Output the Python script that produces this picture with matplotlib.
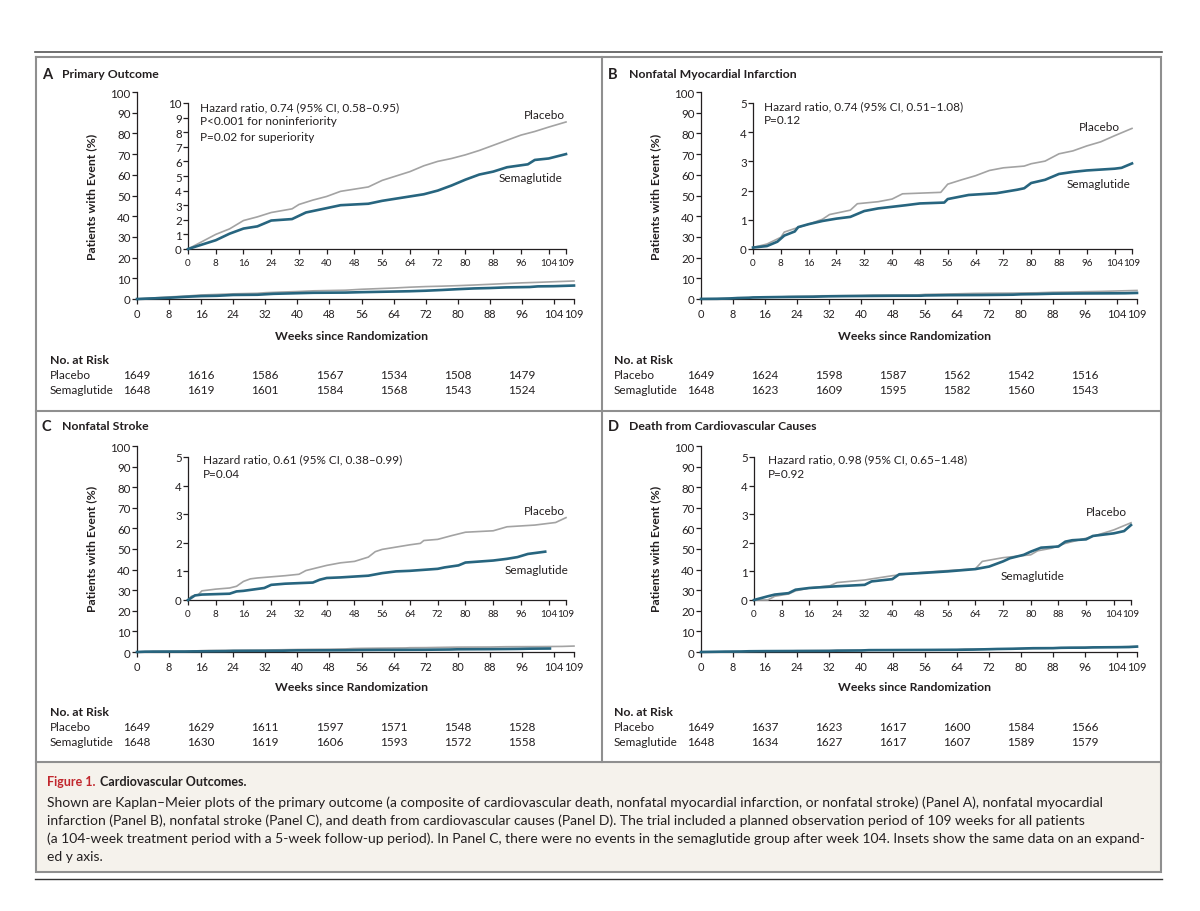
import matplotlib
matplotlib.use('Agg')
import matplotlib.pyplot as plt
from matplotlib.transforms import blended_transform_factory
from matplotlib.patches import Rectangle
from matplotlib import font_manager

# ---------------- data ----------------
week_ticks = [0, 8, 16, 24, 32, 40, 48, 56, 64, 72, 80, 88, 96, 104, 109]
risk_weeks = [0, 16, 32, 48, 64, 80, 96]

# Panel A  Primary outcome (cumulative %)
a_plac_t = [0, 4, 8, 12, 16, 20, 24, 30, 32, 36, 40, 44, 52, 56, 60, 64, 68, 72, 76, 80, 84, 88, 92, 96, 100, 104, 109]
a_plac_y = [0, 0.5, 1.0, 1.38, 1.95, 2.2, 2.5, 2.75, 3.05, 3.35, 3.6, 3.95, 4.25, 4.7, 5.0, 5.3, 5.7, 6.0, 6.2, 6.45, 6.75, 7.1, 7.45, 7.8, 8.05, 8.35, 8.7]
a_sema_t = [0, 4, 8, 12, 16, 20, 24, 30, 34, 40, 44, 52, 56, 64, 68, 72, 76, 80, 84, 88, 92, 98, 100, 104, 109]
a_sema_y = [0, 0.3, 0.6, 1.05, 1.4, 1.55, 1.95, 2.05, 2.5, 2.8, 3.0, 3.1, 3.3, 3.6, 3.75, 4.0, 4.35, 4.75, 5.1, 5.3, 5.6, 5.8, 6.1, 6.2, 6.5]

# Panel B  Nonfatal MI
b_plac_t = [0, 4, 8, 9, 12, 16, 20, 22, 28, 30, 36, 40, 43, 54, 56, 60, 64, 68, 72, 78, 80, 84, 88, 92, 96, 100, 104, 109]
b_plac_y = [0.05, 0.17, 0.4, 0.58, 0.7, 0.85, 1.02, 1.18, 1.33, 1.55, 1.62, 1.71, 1.89, 1.94, 2.22, 2.37, 2.51, 2.69, 2.78, 2.84, 2.92, 3.01, 3.26, 3.36, 3.53, 3.67, 3.88, 4.13]
b_sema_t = [0, 4, 7, 9, 12, 13, 16, 20, 24, 28, 32, 36, 44, 48, 55, 56, 62, 70, 76, 78, 80, 84, 88, 92, 96, 104, 106, 109]
b_sema_y = [0.05, 0.1, 0.25, 0.46, 0.6, 0.75, 0.85, 0.96, 1.04, 1.1, 1.3, 1.39, 1.5, 1.56, 1.59, 1.71, 1.85, 1.91, 2.03, 2.08, 2.26, 2.37, 2.57, 2.64, 2.69, 2.75, 2.78, 2.93]

# Panel C  Nonfatal stroke
c_plac_t = [0, 1, 3, 4, 8, 12, 14, 16, 18, 20, 28, 32, 34, 36, 40, 44, 48, 52, 54, 56, 64, 67, 68, 72, 76, 80, 88, 92, 100, 104, 106, 109]
c_plac_y = [0, 0.13, 0.19, 0.32, 0.38, 0.42, 0.48, 0.65, 0.74, 0.77, 0.85, 0.9, 1.03, 1.09, 1.21, 1.3, 1.35, 1.5, 1.69, 1.77, 1.93, 1.98, 2.08, 2.12, 2.25, 2.37, 2.42, 2.56, 2.62, 2.68, 2.71, 2.88]
c_sema_t = [0, 2, 4, 12, 14, 16, 22, 24, 28, 36, 38, 40, 44, 52, 56, 60, 64, 72, 74, 78, 80, 88, 92, 95, 98, 103]
c_sema_y = [0, 0.16, 0.19, 0.22, 0.3, 0.32, 0.42, 0.53, 0.57, 0.61, 0.71, 0.77, 0.79, 0.85, 0.94, 1.0, 1.02, 1.09, 1.14, 1.21, 1.31, 1.38, 1.44, 1.5, 1.61, 1.69]

# Panel D  Death from cardiovascular causes
d_plac_t = [0, 4, 6, 10, 12, 16, 22, 24, 32, 40, 48, 56, 64, 66, 72, 80, 82, 86, 90, 96, 100, 104, 109]
d_plac_y = [0, 0.0, 0.13, 0.21, 0.32, 0.42, 0.5, 0.61, 0.7, 0.85, 0.96, 1.03, 1.09, 1.35, 1.48, 1.58, 1.72, 1.81, 1.98, 2.16, 2.3, 2.45, 2.7]
d_sema_t = [0, 4, 6, 10, 12, 16, 24, 32, 34, 40, 42, 48, 56, 64, 68, 72, 74, 78, 80, 83, 88, 90, 92, 96, 98, 104, 107, 109]
d_sema_y = [0, 0.13, 0.19, 0.24, 0.36, 0.42, 0.48, 0.53, 0.65, 0.73, 0.9, 0.94, 1.0, 1.08, 1.17, 1.35, 1.46, 1.58, 1.69, 1.83, 1.87, 2.04, 2.09, 2.12, 2.24, 2.33, 2.41, 2.62]

# at-risk numbers
a_risk_plac = [1649, 1616, 1586, 1567, 1534, 1508, 1479]
a_risk_sema = [1648, 1619, 1601, 1584, 1568, 1543, 1524]
b_risk_plac = [1649, 1624, 1598, 1587, 1562, 1542, 1516]
b_risk_sema = [1648, 1623, 1609, 1595, 1582, 1560, 1543]
c_risk_plac = [1649, 1629, 1611, 1597, 1571, 1548, 1528]
c_risk_sema = [1648, 1630, 1619, 1606, 1593, 1572, 1558]
d_risk_plac = [1649, 1637, 1623, 1617, 1600, 1584, 1566]
d_risk_sema = [1648, 1634, 1627, 1617, 1607, 1589, 1579]

titles = ["Primary Outcome", "Nonfatal Myocardial Infarction", "Nonfatal Stroke",
          "Death from Cardiovascular Causes"]
letters = ["A", "B", "C", "D"]
hr_texts = [
    ["Hazard ratio, 0.74 (95% CI, 0.58\u20130.95)", "P<0.001 for noninferiority", "P=0.02 for superiority"],
    ["Hazard ratio, 0.74 (95% CI, 0.51\u20131.08)", "P=0.12"],
    ["Hazard ratio, 0.61 (95% CI, 0.38\u20130.99)", "P=0.04"],
    ["Hazard ratio, 0.98 (95% CI, 0.65\u20131.48)", "P=0.92"],
]
caption_lines = [
    "Shown are Kaplan\u2013Meier plots of the primary outcome (a composite of cardiovascular death, nonfatal myocardial infarction, or nonfatal stroke) (Panel A), nonfatal myocardial",
    "infarction (Panel B), nonfatal stroke (Panel C), and death from cardiovascular causes (Panel D). The trial included a planned observation period of 109 weeks for all patients",
    "(a 104-week treatment period with a 5-week follow-up period). In Panel C, there were no events in the semaglutide group after week 104. Insets show the same data on an expand-",
    "ed y axis.",
]

# ---------------- style ----------------
W, H, DPI = 1200, 912, 100
names = {f.name for f in font_manager.fontManager.ttflist}
MAIN_FONT = 'Lato' if 'Lato' in names else 'DejaVu Sans'
CAP_FONT = 'Liberation Sans Narrow' if 'Liberation Sans Narrow' in names else MAIN_FONT
plt.rcParams['font.family'] = [MAIN_FONT, 'DejaVu Sans']
TXT = '#231f20'
PLAC_C = '#a3a3a3'
SEMA_C = '#27657f'
FRAME_C = '#8f8f8f'
TICK_FS = 8.3
RISK_FS = 8.5

fig = plt.figure(figsize=(W / DPI, H / DPI), dpi=DPI)
bg = fig.add_axes([0, 0, 1, 1])
bg.set_xlim(0, W)
bg.set_ylim(H, 0)
bg.axis('off')

# frame
bg.add_patch(Rectangle((36, 763), 1125, 110, facecolor='#f5f2ec', edgecolor='none', zorder=0))
lwf = 1.5
bg.plot([36, 1161, 1161, 36, 36], [58, 58, 873, 873, 58], color=FRAME_C, lw=lwf, solid_joinstyle='miter')
bg.plot([602, 602], [58, 763], color=FRAME_C, lw=lwf)
bg.plot([36, 1161], [412, 412], color=FRAME_C, lw=lwf)
bg.plot([36, 1161], [763, 763], color=FRAME_C, lw=lwf)
bg.plot([35, 1162], [53, 53], color='#555555', lw=1.2)
bg.plot([35, 1162], [880.5, 880.5], color='#333333', lw=1.0)


def px_axes(x0, y0, x1, y1):
    return fig.add_axes([x0 / W, 1 - y1 / H, (x1 - x0) / W, (y1 - y0) / H])


def style(ax, ymax, yticks, xfs):
    ax.set_xlim(0, 109)
    ax.set_ylim(0, ymax)
    ax.set_xticks(week_ticks)
    ax.set_yticks(yticks)
    for s in ['top', 'right']:
        ax.spines[s].set_visible(False)
    for s in ['left', 'bottom']:
        ax.spines[s].set_linewidth(0.9)
        ax.spines[s].set_color(TXT)
    ax.tick_params(direction='out', length=3.5, width=0.9, labelsize=TICK_FS, colors=TXT)
    ax.tick_params(axis='x', pad=3, labelsize=xfs)
    ax.tick_params(axis='y', pad=1)
    ax.patch.set_alpha(0)


panels = [
    dict(main=(137, 93, 574, 300), inset=(188, 104, 566, 250), ymax_in=10,
         pt=a_plac_t, py=a_plac_y, st=a_sema_t, sy=a_sema_y,
         rp=a_risk_plac, rs=a_risk_sema, ox=0, oy=0,
         plab=(102.7, 9.2), slab=(98.9, 4.87), hr_y=[9.75, 8.8, 7.7], hr_x=3.5),
    dict(main=(701, 93, 1137, 300), inset=(753, 104, 1132, 250), ymax_in=5,
         pt=b_plac_t, py=b_plac_y, st=b_sema_t, sy=b_sema_y,
         rp=b_risk_plac, rs=b_risk_sema, ox=566, oy=0,
         plab=(99.6, 4.2), slab=(99.3, 2.26), hr_y=[4.9, 4.42], hr_x=3.1),
    dict(main=(137, 447, 574, 653), inset=(188, 458, 566, 601), ymax_in=5,
         pt=c_plac_t, py=c_plac_y, st=c_sema_t, sy=c_sema_y,
         rp=c_risk_plac, rs=c_risk_sema, ox=0, oy=352,
         plab=(102.7, 3.14), slab=(100.4, 1.06), hr_y=[4.95, 4.42], hr_x=4.3),
    dict(main=(701, 447, 1137, 653), inset=(754, 458, 1131, 601), ymax_in=5,
         pt=d_plac_t, py=d_plac_y, st=d_sema_t, sy=d_sema_y,
         rp=d_risk_plac, rs=d_risk_sema, ox=566, oy=352,
         plab=(102.0, 3.09), slab=(80.4, 0.85), hr_y=[4.95, 4.42], hr_x=4.0),
]

for i, p in enumerate(panels):
    ox, oy = p['ox'], p['oy']
    ax = px_axes(*p['main'])
    style(ax, 100, list(range(0, 101, 10)), 7.9)
    ax.plot(p['pt'], p['py'], color=PLAC_C, lw=1.2, clip_on=False, zorder=3)
    ax.plot(p['st'], p['sy'], color=SEMA_C, lw=1.9, clip_on=False, zorder=4)

    ins = px_axes(*p['inset'])
    style(ins, p['ymax_in'], list(range(0, p['ymax_in'] + 1)), 7.1)
    ins.plot(p['pt'], p['py'], color=PLAC_C, lw=1.2, clip_on=False, zorder=3)
    ins.plot(p['st'], p['sy'], color=SEMA_C, lw=1.9, clip_on=False, zorder=4)
    ins.text(p['plab'][0], p['plab'][1], "Placebo", ha='center', va='center', fontsize=8.5, color=TXT)
    ins.text(p['slab'][0], p['slab'][1], "Semaglutide", ha='center', va='center', fontsize=8.5, color=TXT)
    for line, yv in zip(hr_texts[i], p['hr_y']):
        ins.text(p['hr_x'], yv, line, ha='left', va='center', fontsize=8.5, color=TXT)

    # titles
    bg.text(42 + ox, 75 + oy, letters[i], fontsize=10.5, fontweight='bold', color=TXT, va='center', ha='left')
    bg.text(62 + ox + (1 if i % 2 else 0), 75 + oy, titles[i], fontsize=8.8, fontweight='bold', color=TXT,
            va='center', ha='left')
    # axis labels
    bg.text(92 + ox - (2 if i % 2 else 0), 197 + oy, "Patients with Event (%)", rotation=90, fontsize=8.8,
            fontweight='bold', color=TXT, va='center', ha='center')
    tr = blended_transform_factory(ax.transData, bg.transData)
    ax.text(53.5, 337 + oy - (1 if oy else 0), "Weeks since Randomization", transform=tr, fontsize=8.8,
            fontweight='bold', color=TXT, va='center', ha='center')
    # at-risk table
    lx = 50 + ox - (2 if i % 2 else 0)
    bg.text(lx, 361 + oy, "No. at Risk", fontsize=8.8, fontweight='bold', color=TXT, va='center', ha='left')
    bg.text(lx, 376 + oy, "Placebo", fontsize=RISK_FS, color=TXT, va='center', ha='left')
    bg.text(lx, 391 + oy, "Semaglutide", fontsize=RISK_FS, color=TXT, va='center', ha='left')
    for wk, n1, n2 in zip(risk_weeks, p['rp'], p['rs']):
        ax.text(wk, 376 + oy, str(n1), transform=tr, fontsize=RISK_FS, color=TXT, va='center', ha='center')
        ax.text(wk, 391 + oy, str(n2), transform=tr, fontsize=RISK_FS, color=TXT, va='center', ha='center')

# caption
renderer = fig.canvas.get_renderer()
t1 = bg.text(47, 782, "Figure 1.", fontsize=9, fontweight='bold', color='#c1272d', va='center', ha='left',
             family=[CAP_FONT, 'DejaVu Sans'])
bb = t1.get_window_extent(renderer)
bg.text(47 + bb.width + 4, 782, "Cardiovascular Outcomes.", fontsize=9, fontweight='bold', color=TXT,
        va='center', ha='left', family=[CAP_FONT, 'DejaVu Sans'])

cap_y = [803, 821, 839, 857]
widths = []
for line in caption_lines[:3]:
    probe = bg.text(0, 0, line, fontsize=9, family=[CAP_FONT, 'DejaVu Sans'])
    widths.append(probe.get_window_extent(renderer).width)
    probe.remove()
cap_fs = 9 * min(1083.0 / widths[0], 1100.0 / widths[2])
for line, yv in zip(caption_lines, cap_y):
    bg.text(47, yv, line, fontsize=cap_fs, color=TXT, va='center', ha='left', family=[CAP_FONT, 'DejaVu Sans'])

fig.savefig('out.png', dpi=DPI)
